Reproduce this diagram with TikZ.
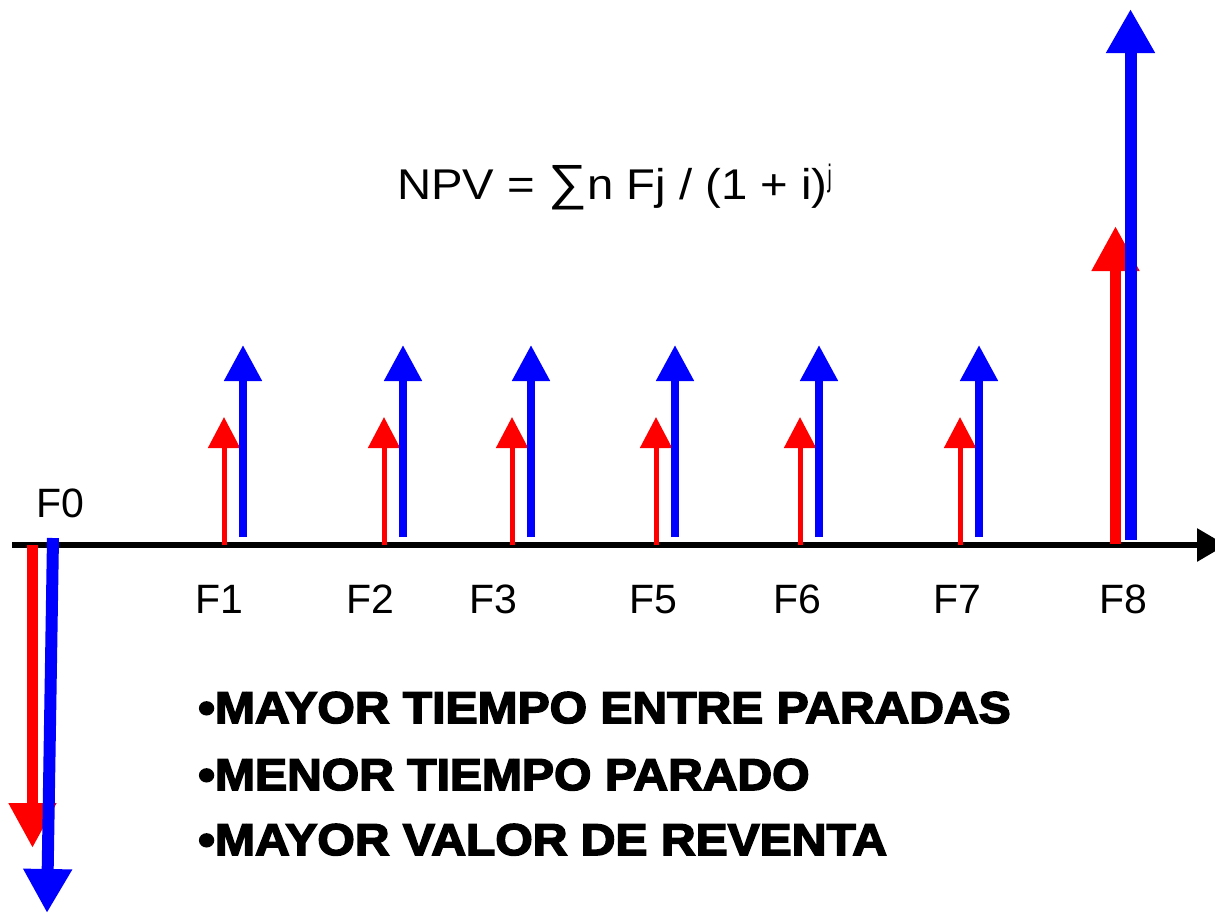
\documentclass[tikz,border=0pt]{standalone}
\usepackage{fontspec}
\setmainfont{Liberation Sans}
\newfontfamily\heavyfont[FakeBold=3.5,FakeStretch=1.08]{Liberation Sans Bold}
\usetikzlibrary{arrows.meta}

\begin{document}
\begin{tikzpicture}[x=1pt,y=-1pt,
  rojo/.style={draw=red,line width=5pt,-{Triangle[length=31pt,width=31pt]}},
  azul/.style={draw=blue,fill=blue,line width=8pt,-{Triangle[length=36pt,width=36pt]}},
  rojogrande/.style={draw=red,line width=11pt,-{Triangle[length=45pt,width=45pt]}},
  azulgrande/.style={draw=blue,line width=12pt,-{Triangle[length=44pt,width=46pt]}},
  flujo/.style={anchor=base,inner sep=0pt,font=\fontsize{41}{41}\selectfont},
  lema/.style={anchor=base west,inner sep=0pt,font=\heavyfont\fontsize{44.5}{44.5}\selectfont}]

  \useasboundingbox (0,0) rectangle (1215,913);

  % eje del tiempo
  \coordinate (e0) at (12,545);
  \coordinate (e1) at (1226,545);
  \draw[line width=6pt,-{Triangle[length=29pt,width=32pt]}] (e0) -- (e1);

  % F0: inversion
  \coordinate (r0) at (32.5,545);  \coordinate (r0t) at (32.5,848);
  \coordinate (b0) at (53,538);    \coordinate (b0t) at (47,913);
  \draw[rojogrande] (r0) -- (r0t);
  \draw[azulgrande] (b0) -- (b0t);

  % F1 ... F7
  \coordinate (r1) at (224,545);  \coordinate (r1t) at (224,417);
  \coordinate (b1) at (243,537);  \coordinate (b1t) at (243,345);
  \coordinate (r2) at (384,545);  \coordinate (r2t) at (384,417);
  \coordinate (b2) at (403,537);  \coordinate (b2t) at (403,345);
  \coordinate (r3) at (512,545);  \coordinate (r3t) at (512,417);
  \coordinate (b3) at (531,537);  \coordinate (b3t) at (531,345);
  \coordinate (r5) at (656,545);  \coordinate (r5t) at (656,417);
  \coordinate (b5) at (675,537);  \coordinate (b5t) at (675,345);
  \coordinate (r6) at (800,545);  \coordinate (r6t) at (800,417);
  \coordinate (b6) at (819,537);  \coordinate (b6t) at (819,345);
  \coordinate (r7) at (960,545);  \coordinate (r7t) at (960,417);
  \coordinate (b7) at (979,537);  \coordinate (b7t) at (979,345);
  \draw[rojo] (r1) -- (r1t);  \draw[azul] (b1) -- (b1t);
  \draw[rojo] (r2) -- (r2t);  \draw[azul] (b2) -- (b2t);
  \draw[rojo] (r3) -- (r3t);  \draw[azul] (b3) -- (b3t);
  \draw[rojo] (r5) -- (r5t);  \draw[azul] (b5) -- (b5t);
  \draw[rojo] (r6) -- (r6t);  \draw[azul] (b6) -- (b6t);
  \draw[rojo] (r7) -- (r7t);  \draw[azul] (b7) -- (b7t);

  % F8: reventa
  \coordinate (r8) at (1115.5,544);  \coordinate (r8t) at (1115.5,226);
  \coordinate (b8) at (1130.5,540);  \coordinate (b8t) at (1130.5,9);
  \draw[rojogrande] (r8) -- (r8t);
  \draw[azulgrande] (b8) -- (b8t);

  % etiquetas
  \node[flujo] (f0) at (60,517)   {F0};
  \node[flujo] (f1) at (219,613)  {F1};
  \node[flujo] (f2) at (370,613)  {F2};
  \node[flujo] (f3) at (493,613)  {F3};
  \node[flujo] (f5) at (653,613)  {F5};
  \node[flujo] (f6) at (797,613)  {F6};
  \node[flujo] (f7) at (957,613)  {F7};
  \node[flujo] (f8) at (1123,613) {F8};

  \node[anchor=base west,inner sep=0pt,font=\fontsize{43}{43}\selectfont] (npv) at (397,199)
    {\scalebox{1.1}[1]{NPV = \scalebox{1.15}{∑}n Fj / (1 + i)\raisebox{13pt}{\scalebox{0.55}[1]{\fontsize{31}{31}\selectfont j}}}};

  \node[lema] (m1) at (198,723) {•MAYOR TIEMPO ENTRE PARADAS};
  \node[lema] (m2) at (198,790) {•MENOR TIEMPO PARADO};
  \node[lema] (m3) at (198,855) {•MAYOR VALOR DE REVENTA};
\end{tikzpicture}
\end{document}
